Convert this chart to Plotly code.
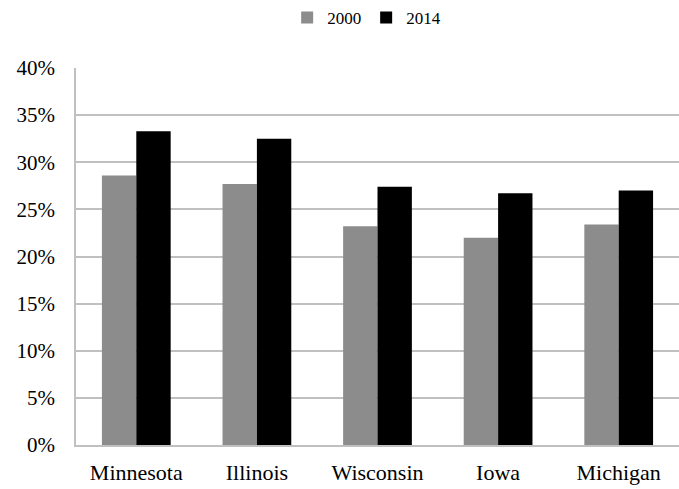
import plotly.graph_objects as go

states = ["Minnesota", "Illinois", "Wisconsin", "Iowa", "Michigan"]
v2000 = [28.6, 27.7, 23.2, 22.0, 23.4]
v2014 = [33.3, 32.5, 27.4, 26.7, 27.0]
yticks = [0, 5, 10, 15, 20, 25, 30, 35, 40]
ytick_text = [f"{t}%" for t in yticks]

FONT = "Liberation Serif"

fig = go.Figure()
fig.add_trace(go.Bar(name="2000", x=states, y=v2000, marker_color="#8c8c8c",
                     marker_line_width=0))
fig.add_trace(go.Bar(name="2014", x=states, y=v2014, marker_color="#000000",
                     marker_line_width=0))

fig.update_layout(
    width=679, height=489,
    margin=dict(l=76, r=0, t=68, b=44, autoexpand=False),
    paper_bgcolor="white", plot_bgcolor="white",
    barmode="group", bargap=0.43, bargroupgap=0,
    font=dict(family=FONT, color="black"),
    legend=dict(orientation="h", xref="container", yref="container",
                x=0.54, xanchor="center", y=1.0, yanchor="top",
                font=dict(size=17, family=FONT), itemwidth=30,
                tracegroupgap=0),
    showlegend=True,
)
fig.update_yaxes(range=[0, 40], tickvals=yticks, ticktext=ytick_text,
                 showgrid=True, gridcolor="#c0c0c0", gridwidth=1.5,
                 showline=True, linecolor="#c0c0c0", linewidth=1.5,
                 zeroline=False, ticks="", ticklabelstandoff=15,
                 automargin=False,
                 tickfont=dict(size=21, family=FONT))
fig.update_xaxes(showline=True, linecolor="#c0c0c0", linewidth=1.5,
                 ticks="", tickfont=dict(size=22, family=FONT),
                 automargin=False, ticklabelstandoff=7)

fig.write_html(
    "out.html",
    config={"displayModeBar": False},
    post_script="document.body.style.margin='0';document.body.style.overflow='hidden';",
)
